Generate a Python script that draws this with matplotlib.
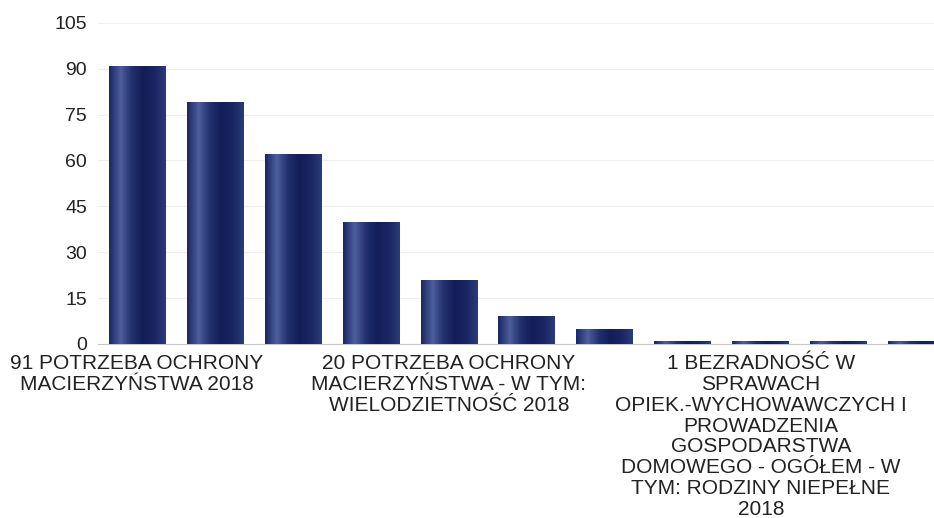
import matplotlib.pyplot as plt
import numpy as np
from matplotlib.colors import LinearSegmentedColormap

# values (bars left to right)
values = [91, 79, 62, 40, 21, 9, 5, 1, 1, 1, 1]

# only every fourth category label is visible in the original
tick_labels = [
    "91 POTRZEBA OCHRONY\nMACIERZYŃSTWA 2018",
    "", "", "",
    "20 POTRZEBA OCHRONY\nMACIERZYŃSTWA - W TYM:\nWIELODZIETNOŚĆ 2018",
    "", "", "",
    "1 BEZRADNOŚĆ W\nSPRAWACH\nOPIEK.-WYCHOWAWCZYCH I\nPROWADZENIA\nGOSPODARSTWA\nDOMOWEGO - OGÓŁEM - W\nTYM: RODZINY NIEPEŁNE\n2018",
    "", "",
]
y_ticks = [0, 15, 30, 45, 60, 75, 90, 105]

plt.rcParams["font.family"] = ["Liberation Sans", "DejaVu Sans"]

fig = plt.figure(figsize=(9.34, 5.18), dpi=100)
ax = fig.add_axes([0.105, 0.336, 0.895, 0.62])

# shaded bar look (lighter stripe on the left, as in the scan)
shade = LinearSegmentedColormap.from_list(
    "bar", ["#1b2766", "#4d5f9e", "#22306f", "#141d58", "#1a2563", "#2b3a78"]
)
grad = np.linspace(0, 1, 64).reshape(1, -1)

x = np.arange(len(values))
bars = ax.bar(x, values, width=0.73, color="#1d2868", linewidth=0, zorder=3)
for b in bars:
    im = ax.imshow(
        grad, cmap=shade, aspect="auto", zorder=4,
        extent=(b.get_x(), b.get_x() + b.get_width(), 0, b.get_height()),
    )
    im.set_clip_path(b)

ax.set_xlim(-0.5, 10.22)
ax.set_ylim(0, 105)
ax.set_yticks(y_ticks)
ax.set_yticklabels([str(v) for v in y_ticks], fontsize=14, color="#222222")
ax.set_xticks(x)
ax.set_xticklabels(tick_labels, fontsize=15, color="#222222", linespacing=1.13)

ax.grid(axis="y", color="#efefef", linewidth=0.8, zorder=0)
for side in ["top", "right", "left"]:
    ax.spines[side].set_visible(False)
ax.spines["bottom"].set_color("#c8c8c8")
ax.tick_params(axis="both", length=0)
ax.tick_params(axis="y", pad=8)
ax.tick_params(axis="x", pad=7)

fig.savefig("out.png", dpi=100)
